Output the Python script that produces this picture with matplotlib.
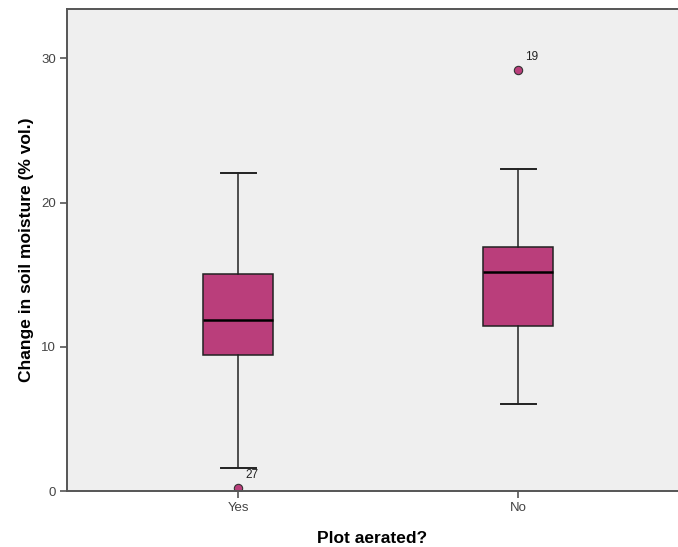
import matplotlib
matplotlib.use("Agg")
import matplotlib.pyplot as plt

# Box plot summary per group: change in soil moisture (% vol.)
groups = ["Yes", "No"]
whisker_low = [1.57, 6.03]
q1 = [9.45, 11.46]
median = [11.83, 15.18]
q3 = [15.04, 16.91]
whisker_high = [22.06, 22.31]
outlier_values = [[0.23], [29.18]]
outlier_ids = [["27"], ["19"]]

box_fill = "#BA3E7B"
bg = "#EFEFEF"
ink = "#222222"

plt.rcParams["font.family"] = ["Liberation Sans Narrow", "Liberation Sans", "DejaVu Sans"]

fig = plt.figure(figsize=(6.78, 5.47), dpi=100)
ax = fig.add_axes([67 / 678, 1 - 491 / 547, 611 / 678, (491 - 9.3) / 547])
ax.set_facecolor(bg)

stats = []
for i, g in enumerate(groups):
    stats.append(dict(label=g, whislo=whisker_low[i], q1=q1[i], med=median[i],
                      q3=q3[i], whishi=whisker_high[i], fliers=outlier_values[i]))

positions = [1, 2]
ax.bxp(stats, positions=positions, widths=0.25, patch_artist=True,
       boxprops=dict(facecolor=box_fill, edgecolor=ink, linewidth=1.1),
       medianprops=dict(color="black", linewidth=1.8),
       whiskerprops=dict(color=ink, linewidth=1.1),
       capprops=dict(color=ink, linewidth=1.4),
       capwidths=0.125,
       flierprops=dict(marker="o", markerfacecolor=box_fill, markeredgecolor="#333333",
                       markersize=6, markeredgewidth=0.8))

for pos, vals, ids in zip(positions, outlier_values, outlier_ids):
    for v, lab in zip(vals, ids):
        ax.annotate(lab, (pos, v), xytext=(5, 5), textcoords="offset points",
                    fontsize=8.5, color="#222222", ha="left", va="bottom")

ax.set_xlim(0.389, 2.571)
ax.set_ylim(0, 33.4)
ax.set_yticks([0, 10, 20, 30])
ax.set_xticks(positions)
ax.set_xticklabels(groups)

for side in ["left", "bottom", "top"]:
    ax.spines[side].set_color("#555555")
    ax.spines[side].set_linewidth(1.4)
ax.spines["right"].set_visible(False)

ax.tick_params(axis="both", direction="out", length=5, width=1.2, color="#555555",
               labelsize=9.5, labelcolor="#444444", pad=3)

ax.set_ylabel("Change in soil moisture (% vol.)", fontsize=12.5, fontweight="bold",
              family=["Liberation Sans", "DejaVu Sans"], labelpad=5)
ax.set_xlabel("Plot aerated?", fontsize=12.5, fontweight="bold",
              family=["Liberation Sans", "DejaVu Sans"], labelpad=12)

fig.savefig("out.png", dpi=100)
